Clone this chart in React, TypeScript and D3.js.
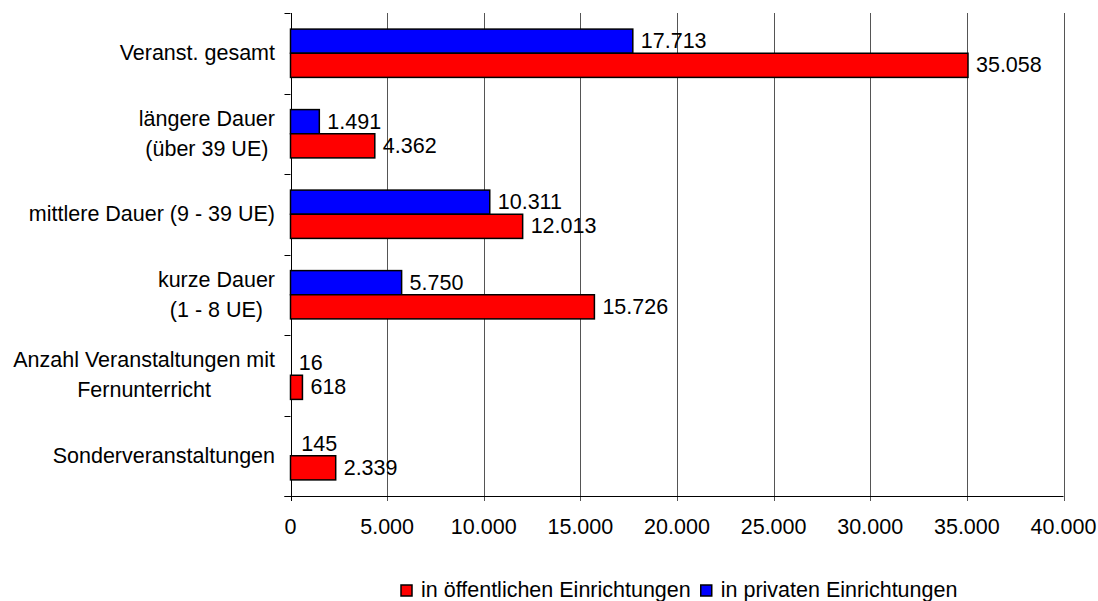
import { useEffect, useRef } from "react";
import * as d3 from "d3";

const WIDTH = 1098;
const HEIGHT = 601;
const FONT = "'Liberation Sans', Arial, sans-serif";
const FS = 21.5;

// category labels, top to bottom ("\n" = line break)
const categories = [
  "Veranst. gesamt",
  "längere Dauer\n(über 39 UE)",
  "mittlere Dauer (9 - 39 UE)",
  "kurze Dauer\n(1 - 8 UE)",
  "Anzahl Veranstaltungen mit\nFernunterricht",
  "Sonderveranstaltungen",
];
const privateValues = [17713, 1491, 10311, 5750, 16, 145];
const publicValues = [35058, 4362, 12013, 15726, 618, 2339];
const xTicks = [0, 5000, 10000, 15000, 20000, 25000, 30000, 35000, 40000];
const seriesNames = ["in öffentlichen Einrichtungen", "in privaten Einrichtungen"];
const seriesColors = ["#ff0000", "#0000ff"];

const PLOT_LEFT = 290.5;
const PLOT_RIGHT = 1063.5;
const PLOT_TOP = 13;
const PLOT_BOTTOM = 496;

const de = d3.formatLocale({
  decimal: ",",
  thousands: ".",
  grouping: [3],
  currency: ["", " €"],
});
const fmt = de.format(",d");

export default function App() {
  const svgRef = useRef<SVGSVGElement>(null);

  useEffect(() => {
    const svg = d3.select(svgRef.current);
    svg.selectAll("*").remove();

    const x = d3.scaleLinear().domain([0, 40000]).range([PLOT_LEFT, PLOT_RIGHT]);
    const y = d3
      .scaleBand<number>()
      .domain(d3.range(categories.length))
      .range([PLOT_TOP, PLOT_BOTTOM])
      .paddingInner(0.4)
      .paddingOuter(0.2);
    const sub = d3
      .scaleBand<string>()
      .domain(["private", "public"])
      .range([0, y.bandwidth()]);
    const step = y.step();

    // gridlines + bottom ticks
    const px = (v: number) => Math.round(x(v)) + 0.5;
    svg
      .append("g")
      .selectAll("line")
      .data(xTicks)
      .join("line")
      .attr("x1", px)
      .attr("x2", px)
      .attr("y1", PLOT_TOP)
      .attr("y2", PLOT_BOTTOM + 5)
      .attr("stroke", (d) => (d === 0 ? "#000" : "#555"))
      .attr("stroke-width", 1);

    // left axis ticks at band boundaries
    svg
      .append("g")
      .selectAll("line")
      .data(d3.range(categories.length + 1))
      .join("line")
      .attr("x1", PLOT_LEFT - 6)
      .attr("x2", PLOT_LEFT)
      .attr("y1", (i) => Math.round(PLOT_TOP + i * step) + 0.5)
      .attr("y2", (i) => Math.round(PLOT_TOP + i * step) + 0.5)
      .attr("stroke", "#000");

    // bottom axis line
    svg
      .append("line")
      .attr("x1", PLOT_LEFT - 6)
      .attr("x2", PLOT_RIGHT)
      .attr("y1", PLOT_BOTTOM + 0.5)
      .attr("y2", PLOT_BOTTOM + 0.5)
      .attr("stroke", "#000");

    // tick labels
    svg
      .append("g")
      .selectAll("text")
      .data(xTicks)
      .join("text")
      .attr("x", (d) => x(d))
      .attr("y", 534)
      .attr("text-anchor", "middle")
      .attr("font-family", FONT)
      .attr("font-size", FS)
      .text((d) => fmt(d));

    // bars
    const rows = categories.map((c, i) => ({
      i,
      private: privateValues[i],
      public: publicValues[i],
    }));
    const series = [
      { key: "private", color: seriesColors[1] },
      { key: "public", color: seriesColors[0] },
    ];
    series.forEach((s) => {
      const g = svg.append("g");
      const w = (d: any) => x(d[s.key]) - PLOT_LEFT;
      g.selectAll("rect")
        .data(rows)
        .join("rect")
        .attr("x", PLOT_LEFT)
        .attr("y", (d) => y(d.i)! + sub(s.key)!)
        .attr("width", w)
        .attr("height", sub.bandwidth())
        .attr("fill", s.color)
        .attr("stroke", "#000")
        .attr("stroke-width", 1.5)
        // bars only a few px wide disappear behind the axis in the original
        .attr("display", (d) => (w(d) < 4 ? "none" : null));
      g.selectAll("text")
        .data(rows)
        .join("text")
        .attr("x", (d: any) => x(d[s.key]) + 8)
        .attr("y", (d) => y(d.i)! + sub(s.key)! + sub.bandwidth() / 2 + 7)
        .attr("font-family", FONT)
        .attr("font-size", FS)
        .text((d: any) => fmt(d[s.key]));
    });

    // category labels: block right aligned, lines centred in block
    const labelRight = 275;
    const lineH = 30;
    categories.forEach((c, i) => {
      const lines = c.split("\n");
      const cy = PLOT_TOP + (i + 0.5) * step + 7;
      const t = svg
        .append("g")
        .selectAll("text")
        .data(lines)
        .join("text")
        .attr("y", (_, j) => cy + (j - (lines.length - 1) / 2) * lineH)
        .attr("font-family", FONT)
        .attr("font-size", FS)
        .attr("text-anchor", "middle")
        .text((d) => d);
      let maxW = 0;
      t.each(function () {
        maxW = Math.max(maxW, (this as SVGTextElement).getComputedTextLength());
      });
      t.attr("x", labelRight - maxW / 2);
    });

    // legend
    const legend = svg.append("g");
    let lx = 401;
    seriesNames.forEach((name, i) => {
      legend
        .append("rect")
        .attr("x", lx)
        .attr("y", 585)
        .attr("width", 11)
        .attr("height", 11)
        .attr("fill", seriesColors[i])
        .attr("stroke", "#000")
        .attr("stroke-width", 1.5);
      const txt = legend
        .append("text")
        .attr("x", lx + 20)
        .attr("y", 597)
        .attr("font-family", FONT)
        .attr("font-size", FS)
        .text(name);
      lx = lx + 20 + (txt.node() as SVGTextElement).getComputedTextLength() + 10;
    });
  }, []);

  return (
    <svg
      ref={svgRef}
      width={WIDTH}
      height={HEIGHT}
      style={{ position: "absolute", left: 0, top: 0, background: "#fff" }}
    />
  );
}
